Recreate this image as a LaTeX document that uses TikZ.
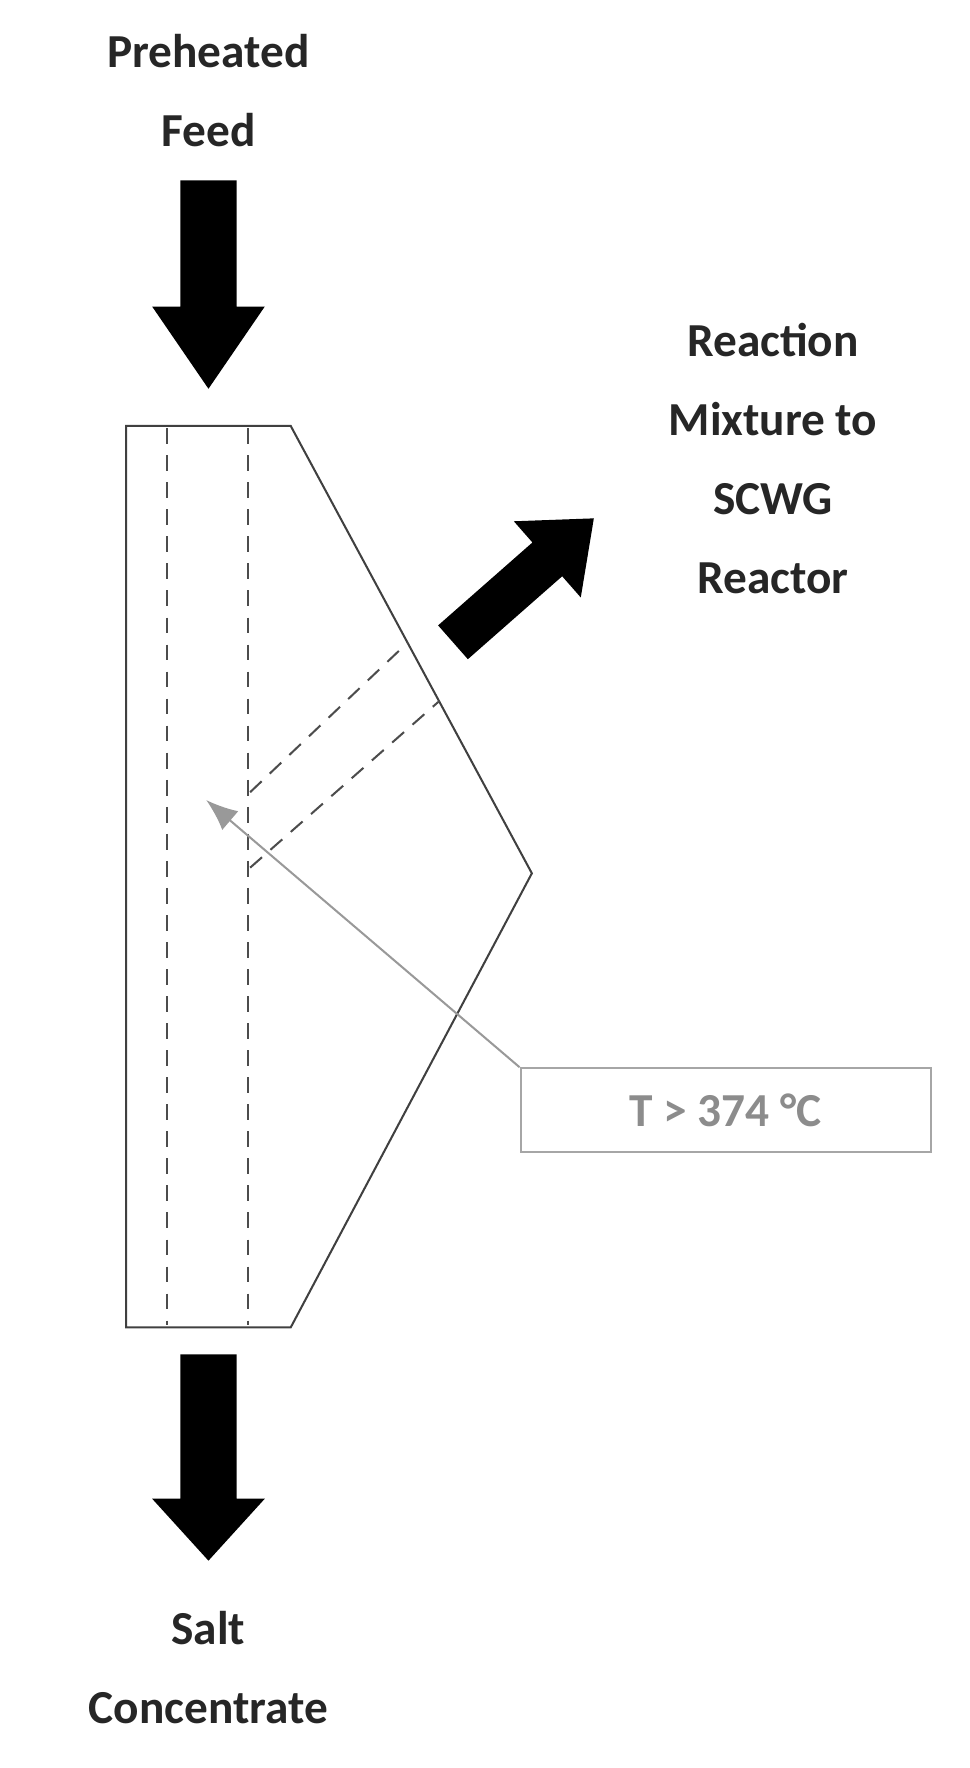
\documentclass[tikz,border=0pt]{standalone}
\usepackage{fontspec}
\usetikzlibrary{arrows.meta}
\setmainfont{Carlito}
\begin{document}
\begin{tikzpicture}[x=0.5pt,y=-0.5pt,
  lbl/.style={font=\fontsize{21}{35}\selectfont\bfseries,align=center,text=black!85},
  fat/.style={fill=black,draw=none},
  dsh/.style={draw=black!70,line width=0.9pt,dash pattern=on 7pt off 5pt},
  outl/.style={draw=black!75,line width=0.9pt}]
\useasboundingbox (0,0) rectangle (860,1569);
\node[lbl] (feed) at (185,80) {Preheated\\Feed};
\node[lbl] (mix) at (686,407) {Reaction\\Mixture to\\SCWG\\Reactor};
\node[lbl] (salt) at (185,1480) {Salt\\Concentrate};
% top arrow
\fill[fat] (160,160) -- (210,160) -- (210,272) -- (235,272) -- (185,345) -- (135,272) -- (160,272) -- cycle;
% bottom arrow
\fill[fat] (160,1202) -- (210,1202) -- (210,1330) -- (235,1330) -- (185,1385) -- (135,1330) -- (160,1330) -- cycle;
% right arrow
\fill[fat] (388.8,555) -- (472.5,481.4) -- (456,462.6) -- (527,460) -- (515.4,530.2) -- (498.9,511.4) -- (415.2,585) -- cycle;
% vessel
\draw[outl] (112,378) -- (258,378) -- (472,775) -- (258,1178) -- (112,1178) -- cycle;
\draw[dsh] (148,380) -- (148,1176);
\draw[dsh] (220,380) -- (220,1176);
\draw[dsh] (222,703) -- (362,570);
\draw[dsh] (222,770) -- (390,622);
% label
\node[draw=black!35,line width=0.9pt,minimum width=182pt,minimum height=37pt,
  font=\fontsize{21}{25}\selectfont\bfseries,text=black!45] (tl) at (644,985) {T > 374 °C};
\coordinate (tgt) at (183,710);
\draw[black!40,line width=0.9pt,-{Latex[length=14pt,width=11pt]}] (tl.north west) -- (tgt);
\end{tikzpicture}
\end{document}
